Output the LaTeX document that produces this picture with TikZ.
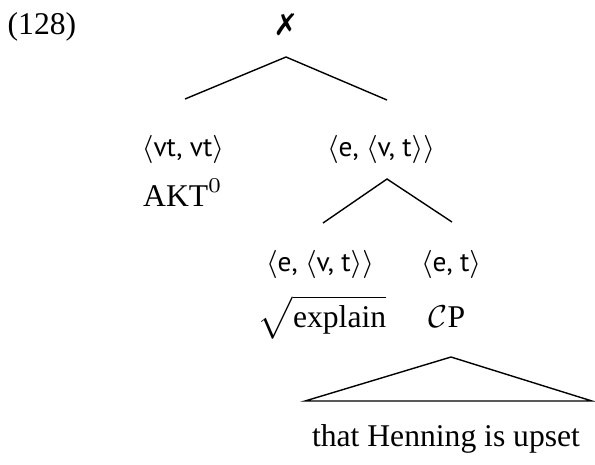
\documentclass[tikz,border=0pt]{standalone}
\usepackage{fontspec}
\setmainfont{Liberation Serif}
\newfontfamily\typefont{PT Sans}
\newfontfamily\symfont{DejaVu Sans}
\usepackage{tikz}
\usetikzlibrary{positioning}
\newcommand{\ty}[1]{{\typefont\fontsize{7.8}{9}\selectfont$\langle$#1$\rangle$}}
\newcommand{\crossmark}{{\symfont\bfseries\fontsize{8.5}{9}\selectfont ✗}}

\begin{document}
\begin{tikzpicture}[x=1cm,y=-1cm,font=\fontsize{9}{11}\selectfont,
    lbl/.style={inner sep=0pt,anchor=base}]
  \useasboundingbox (0,0) rectangle (5.95,4.64);
  \node[lbl,anchor=base west] (ex) at (0.07,0.34) {(128)};
  \node[lbl] (root) at (2.86,0.35) {\crossmark};
  \coordinate (r-top) at (2.86,0.57);
  \coordinate (r-left) at (1.85,0.99);
  \coordinate (r-right) at (3.87,1.00);
  \draw (r-left) -- (r-top) -- (r-right);
  \node[lbl] (akt-ty) at (1.83,1.56) {\ty{vt, vt}};
  \node[lbl] (akt) at (1.83,2.06) {AKT$^0$};
  \node[lbl] (vp-ty) at (3.81,1.56) {\ty{e, \ty{v, t}}};
  \coordinate (vp-top) at (3.87,1.79);
  \coordinate (vp-left) at (3.23,2.23);
  \coordinate (vp-right) at (4.52,2.22);
  \draw (vp-left) -- (vp-top) -- (vp-right);
  \node[lbl] (expl-ty) at (3.20,2.71) {\ty{e, \ty{v, t}}};
  \node[lbl] (expl) at (3.22,3.27) {$\sqrt{\mbox{explain}}$};
  \node[lbl] (cp-ty) at (4.51,2.71) {\ty{e, t}};
  \node[lbl] (cp) at (4.47,3.27) {$\mathcal{C}$P};
  \coordinate (tri-top) at (4.51,3.57);
  \coordinate (tri-left) at (3.05,4.01);
  \coordinate (tri-right) at (5.92,4.01);
  \draw (tri-top) -- (tri-left) -- (tri-right) -- cycle;
  \node[lbl] (cp-text) at (4.46,4.46) {that Henning is upset};
\end{tikzpicture}
\end{document}
